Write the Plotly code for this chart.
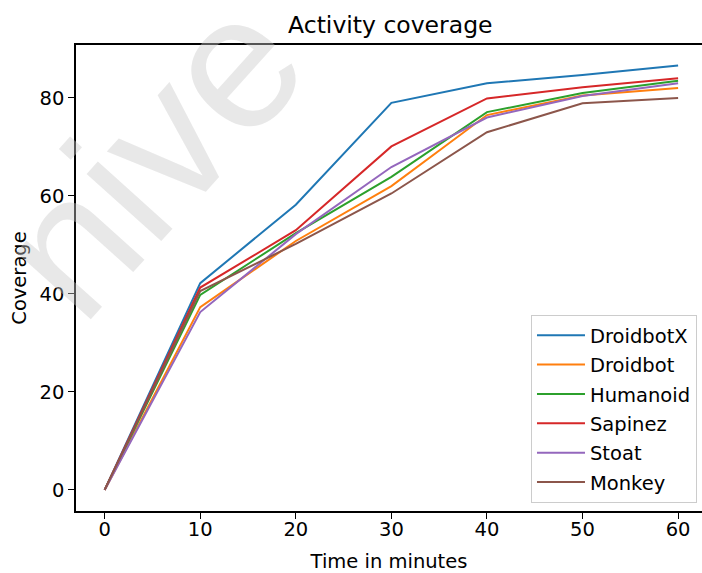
import plotly.graph_objects as go

minutes = [0, 10, 20, 30, 40, 50, 60]
droidbotx = [0, 42.2, 58.2, 79.0, 83.0, 84.7, 86.6]
droidbot = [0, 37.3, 50.8, 62.0, 76.5, 80.5, 82.0]
humanoid = [0, 39.8, 52.4, 63.9, 77.1, 81.0, 83.5]
sapinez = [0, 41.3, 53.0, 70.1, 79.9, 82.2, 84.0]
stoat = [0, 36.3, 52.2, 65.9, 76.0, 80.4, 83.0]
monkey = [0, 40.6, 50.2, 60.5, 73.0, 78.9, 80.0]

series = [
    ("DroidbotX", droidbotx, "#1f77b4"),
    ("Droidbot", droidbot, "#ff7f0e"),
    ("Humanoid", humanoid, "#2ca02c"),
    ("Sapinez", sapinez, "#d62728"),
    ("Stoat", stoat, "#9467bd"),
    ("Monkey", monkey, "#8c564b"),
]

FONT = "DejaVu Sans"
FS = 19.5

fig = go.Figure()
for i, (name, vals, col) in enumerate(series):
    fig.add_trace(go.Scatter(x=minutes, y=vals, mode="lines", name=name,
                             legendgroup=f"g{i}",
                             line=dict(color=col, width=2)))

fig.update_layout(
    width=702, height=573,
    margin=dict(l=76, r=0, t=45, b=62),
    paper_bgcolor="white", plot_bgcolor="white",
    font=dict(family=FONT, size=FS, color="black"),
    title=dict(text="Activity coverage", x=0.556, xanchor="center",
               y=0.957, yanchor="middle", font=dict(size=23.5)),
    showlegend=True,
    legend=dict(x=0.992, xanchor="right", y=0.017, yanchor="bottom",
                bgcolor="white", bordercolor="#cccccc", borderwidth=1,
                font=dict(size=FS), traceorder="grouped", tracegroupgap=1,
                itemwidth=48),
    xaxis=dict(range=[-3, 62.5], tickvals=[0, 10, 20, 30, 40, 50, 60],
               showgrid=False, zeroline=False, showline=True, linecolor="black",
               linewidth=1.5, mirror=True, ticks="outside", ticklen=6,
               tickcolor="black", tickfont=dict(size=FS),
               ticklabelposition="outside", ticklabelstandoff=-6,
               title=dict(text="Time in minutes", font=dict(size=FS), standoff=16)),
    yaxis=dict(range=[-4.3, 90.8], tickvals=[0, 20, 40, 60, 80],
               showgrid=False, zeroline=False, showline=True, linecolor="black",
               linewidth=1.5, ticks="outside", ticklen=6, tickcolor="black",
               tickfont=dict(size=FS),
               title=dict(text="Coverage", font=dict(size=FS), standoff=8)),
)

fig.add_annotation(text="nive", xref="paper", yref="paper", x=0.118, y=0.764,
                   xanchor="center", yanchor="middle",
                   showarrow=False, textangle=-48,
                   font=dict(family="Liberation Sans", size=190,
                             color="rgba(200,200,200,0.42)"))

fig.write_html("out.html")
